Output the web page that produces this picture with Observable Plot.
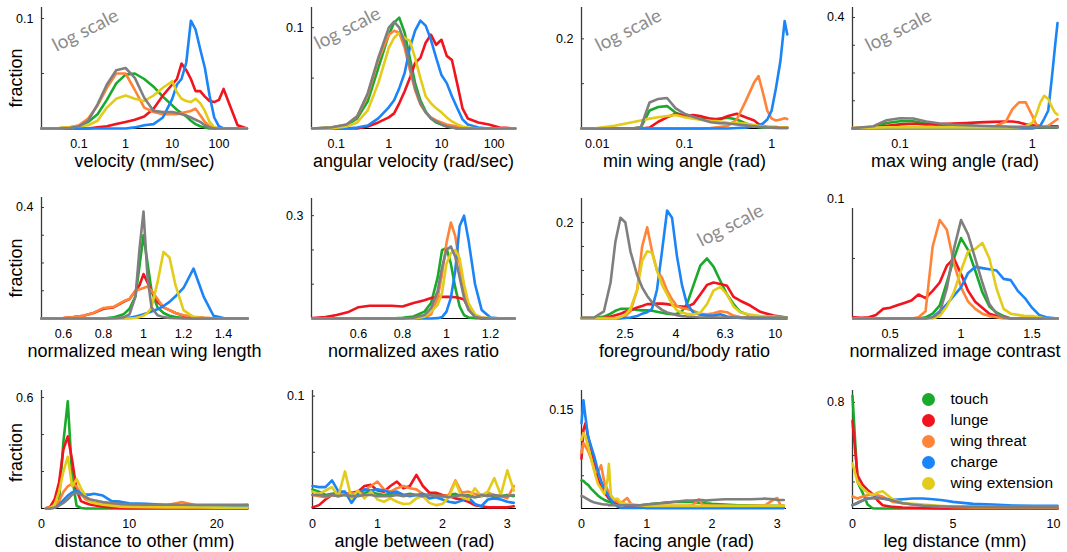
<!DOCTYPE html>
<html><head><meta charset="utf-8">
<script src="https://cdn.jsdelivr.net/npm/d3@7"></script>
<script src="https://cdn.jsdelivr.net/npm/@observablehq/plot@0.6"></script>
<style>
body{margin:0;background:#fff;}
#chart{position:relative;width:1067px;height:552px;overflow:hidden;}
#chart svg{position:absolute;overflow:visible;}
</style></head><body><div id="chart"></div>
<script>
const behaviors = ["touch","lunge","wing threat","charge","wing extension"];
const colors = ["#1aaa2b","#f0141e","#ff8438","#1b84f7","#e3cb1a","#7f7f7f"];
// order of each Y list: touch, lunge, wing threat, charge, wing extension, all (gray)

// 1 velocity (mm/sec)
const velX = [0.0158,0.0316,0.0631,0.1,0.158,0.251,0.398,0.631,1,1.58,2.51,3.98,6.31,10,12.6,15.8,20,25.1,31.6,39.8,50.1,63.1,79.4,100,126,158,251,398];
const velY = [
 [0,0,0.001,0.002,0.006,0.013,0.026,0.041,0.049,0.05,0.045,0.038,0.029,0.021,0.017,0.014,0.011,0.007,0.004,0.002,0.001,0,0,0,0,0,0,0],
 [0,0,0,0,0,0.001,0.002,0.004,0.006,0.008,0.011,0.018,0.03,0.04,0.045,0.059,0.053,0.045,0.034,0.034,0.029,0.025,0.024,0.026,0.036,0.025,0.003,0],
 [0,0,0.001,0.003,0.009,0.021,0.037,0.05,0.05,0.035,0.019,0.015,0.013,0.013,0.013,0.014,0.015,0.016,0.018,0.012,0.006,0.002,0.001,0,0,0,0,0],
 [0,0,0,0,0,0,0,0,0,0.001,0.003,0.004,0.01,0.027,0.04,0.045,0.06,0.098,0.09,0.072,0.055,0.03,0.01,0.002,0,0,0,0],
 [0,0,0.001,0.002,0.003,0.007,0.019,0.027,0.03,0.027,0.025,0.03,0.037,0.043,0.033,0.027,0.025,0.024,0.027,0.023,0.016,0.006,0.001,0,0,0,0,0],
 [0,0,0.0005,0.002,0.007,0.022,0.04,0.053,0.055,0.046,0.028,0.016,0.015,0.015,0.014,0.013,0.012,0.01,0.008,0.006,0.003,0.001,0,0,0,0,0,0]
];
// 2 angular velocity (rad/sec)
const angX = [0.035,0.0794,0.158,0.251,0.398,0.631,1,1.26,1.58,2.0,2.51,3.16,3.98,5.01,6.31,7.94,10,12.6,15.8,20,25.1,31.6,50.1,79.4,126,251];
const angY = [
 [0,0.001,0.003,0.01,0.027,0.06,0.093,0.105,0.11,0.095,0.07,0.045,0.028,0.017,0.01,0.006,0.004,0.002,0.001,0,0,0,0,0,0,0],
 [0,0,0,0,0.002,0.006,0.011,0.015,0.025,0.037,0.05,0.065,0.07,0.085,0.093,0.083,0.088,0.072,0.068,0.044,0.02,0.01,0.006,0.004,0.001,0],
 [0,0.001,0.004,0.012,0.033,0.068,0.093,0.097,0.095,0.08,0.058,0.038,0.024,0.016,0.011,0.008,0.006,0.004,0.003,0.002,0.001,0,0,0,0,0],
 [0,0,0,0.001,0.003,0.01,0.021,0.028,0.04,0.055,0.08,0.097,0.107,0.102,0.088,0.07,0.053,0.045,0.032,0.02,0.009,0.004,0.001,0,0,0],
 [0,0,0.002,0.006,0.018,0.045,0.08,0.09,0.095,0.09,0.087,0.07,0.05,0.032,0.025,0.02,0.016,0.011,0.007,0.004,0.002,0.001,0,0,0,0],
 [0,0.001,0.004,0.012,0.035,0.07,0.1,0.106,0.1,0.085,0.062,0.04,0.025,0.016,0.01,0.007,0.004,0.002,0.001,0,0,0,0,0,0,0]
];
// 3 min wing angle (rad)
const minX = [0.0066,0.01,0.0158,0.0251,0.0316,0.0398,0.0501,0.0631,0.0794,0.1,0.126,0.158,0.2,0.251,0.316,0.398,0.501,0.631,0.708,0.794,0.891,1,1.12,1.26,1.41,1.51];
const minY = [
 [0,0,0,0,0.002,0.04,0.048,0.05,0.035,0.028,0.025,0.021,0.019,0.022,0.024,0.02,0.012,0.005,0.003,0.002,0.002,0.002,0.001,0.001,0.001,0.001],
 [0,0,0,0,0,0.002,0.015,0.025,0.033,0.028,0.03,0.027,0.022,0.02,0.028,0.033,0.025,0.018,0.01,0.006,0.004,0.003,0.003,0.002,0.002,0.002],
 [0,0,0,0,0,0,0,0,0,0,0,0,0.001,0.003,0.006,0.02,0.06,0.103,0.117,0.08,0.04,0.022,0.018,0.02,0.023,0.021],
 [0,0,0,0,0,0,0,0,0,0,0,0,0,0,0,0.001,0.002,0.005,0.007,0.011,0.02,0.04,0.09,0.15,0.24,0.21],
 [0,0.001,0.006,0.014,0.018,0.022,0.025,0.028,0.03,0.025,0.022,0.019,0.017,0.016,0.013,0.012,0.011,0.008,0.006,0.005,0.004,0.003,0.002,0.002,0.002,0.002],
 [0,0,0,0,0.003,0.058,0.066,0.068,0.045,0.033,0.026,0.02,0.014,0.012,0.011,0.009,0.007,0.005,0.004,0.003,0.002,0.002,0.002,0.001,0.001,0.001]
];
// 4 max wing angle (rad)
const maxX = [0.0438,0.0631,0.0794,0.1,0.126,0.158,0.2,0.251,0.316,0.398,0.501,0.631,0.708,0.794,0.891,1,1.07,1.15,1.23,1.32,1.41,1.48,1.55];
const maxY = [
 [0.001,0.005,0.02,0.026,0.026,0.018,0.012,0.01,0.008,0.007,0.006,0.005,0.004,0.004,0.004,0.004,0.004,0.004,0.004,0.004,0.004,0.004,0.004],
 [0,0.004,0.01,0.015,0.017,0.015,0.016,0.018,0.02,0.022,0.024,0.025,0.025,0.022,0.015,0.012,0.01,0.008,0.008,0.008,0.008,0.008,0.008],
 [0.002,0.003,0.003,0.003,0.003,0.003,0.003,0.003,0.003,0.003,0.004,0.025,0.07,0.094,0.094,0.046,0.015,0.008,0.008,0.01,0.02,0.027,0.034],
 [0,0,0,0,0,0,0,0,0,0,0,0,0,0,0,0,0.003,0.01,0.035,0.065,0.19,0.29,0.38],
 [0.002,0.003,0.004,0.004,0.004,0.004,0.004,0.004,0.004,0.004,0.004,0.004,0.004,0.005,0.008,0.02,0.05,0.094,0.118,0.106,0.076,0.058,0.05],
 [0.001,0.008,0.03,0.037,0.036,0.025,0.018,0.014,0.012,0.01,0.008,0.007,0.006,0.006,0.005,0.005,0.005,0.005,0.004,0.004,0.004,0.004,0.004]
];
// 5 normalized mean wing length
const wlenX = [0.49,0.6,0.65,0.7,0.75,0.8,0.85,0.9,0.93,0.96,0.98,1.0,1.02,1.04,1.07,1.1,1.13,1.16,1.2,1.25,1.3,1.35,1.4,1.52];
const wlenY = [
 [0,0,0,0,0,0,0.004,0.015,0.035,0.08,0.19,0.3,0.2,0.1,0.04,0.02,0.01,0.005,0.002,0,0,0,0,0],
 [0,0.002,0.005,0.01,0.02,0.035,0.04,0.06,0.07,0.1,0.12,0.16,0.13,0.1,0.06,0.04,0.03,0.02,0.01,0.005,0.002,0,0,0],
 [0,0.002,0.005,0.01,0.02,0.038,0.042,0.062,0.07,0.1,0.105,0.11,0.115,0.1,0.07,0.04,0.03,0.02,0.012,0.006,0.003,0.001,0,0],
 [0,0,0,0,0,0,0,0.001,0.003,0.007,0.011,0.015,0.02,0.025,0.033,0.045,0.06,0.08,0.11,0.18,0.08,0.01,0.002,0],
 [0,0,0,0,0,0,0,0,0,0.002,0.005,0.01,0.02,0.04,0.13,0.24,0.22,0.12,0.03,0.005,0.001,0,0,0],
 [0,0,0,0,0,0,0.001,0.004,0.015,0.08,0.25,0.385,0.15,0.04,0.012,0.005,0.002,0.001,0,0,0,0,0,0]
];
// 6 normalized axes ratio
const axX = [0.39,0.45,0.5,0.55,0.6,0.65,0.7,0.75,0.8,0.85,0.9,0.93,0.96,0.98,1.0,1.02,1.04,1.06,1.08,1.1,1.13,1.16,1.2,1.25,1.31];
const axY = [
 [0,0,0,0,0,0,0,0,0.002,0.006,0.02,0.045,0.12,0.2,0.205,0.16,0.09,0.035,0.01,0.003,0.001,0,0,0,0],
 [0.001,0.004,0.01,0.018,0.033,0.037,0.037,0.037,0.035,0.045,0.053,0.06,0.063,0.063,0.063,0.063,0.062,0.06,0.055,0.03,0.005,0.001,0,0,0],
 [0,0,0,0,0,0,0,0,0,0,0.003,0.012,0.06,0.13,0.22,0.28,0.24,0.16,0.08,0.03,0.008,0.002,0,0,0],
 [0,0,0,0,0,0,0,0,0,0,0,0,0.001,0.004,0.02,0.06,0.14,0.27,0.3,0.23,0.1,0.025,0.003,0,0],
 [0,0,0,0,0,0,0,0,0,0,0.005,0.02,0.04,0.075,0.16,0.19,0.2,0.175,0.1,0.045,0.012,0.003,0.001,0,0],
 [0,0,0,0,0,0,0,0,0,0.002,0.01,0.03,0.08,0.15,0.2,0.21,0.18,0.12,0.06,0.025,0.005,0.001,0,0,0]
];
// 7 foreground/body ratio
const fgX = [1.68,1.88,2.06,2.19,2.29,2.4,2.51,2.63,2.8,2.93,3.07,3.21,3.36,3.52,3.69,3.86,4.04,4.23,4.43,4.71,5.01,5.33,5.66,6.03,6.41,6.81,7.24,7.94,8.71,9.85,11.1];
const fgY = [
 [0,0.001,0.004,0.01,0.016,0.02,0.02,0.02,0.018,0.017,0.017,0.016,0.014,0.012,0.01,0.009,0.01,0.015,0.03,0.07,0.11,0.125,0.108,0.078,0.05,0.03,0.014,0.006,0.003,0.001,0],
 [0,0,0.001,0.004,0.007,0.01,0.014,0.017,0.023,0.026,0.03,0.03,0.031,0.031,0.03,0.028,0.026,0.025,0.024,0.031,0.05,0.07,0.075,0.072,0.068,0.045,0.037,0.027,0.014,0.006,0.002],
 [0.001,0.001,0.001,0.001,0.001,0.002,0.005,0.015,0.06,0.15,0.19,0.14,0.1,0.085,0.058,0.04,0.026,0.022,0.02,0.016,0.01,0.009,0.011,0.015,0.013,0.006,0.003,0.002,0.001,0.001,0.001],
 [0,0,0,0,0,0,0.001,0.002,0.005,0.01,0.013,0.02,0.06,0.14,0.225,0.21,0.13,0.07,0.03,0.012,0.008,0.006,0.006,0.009,0.004,0.002,0.001,0,0,0,0],
 [0,0,0,0,0,0.003,0.008,0.02,0.06,0.12,0.14,0.137,0.1,0.07,0.05,0.03,0.017,0.012,0.01,0.009,0.012,0.03,0.058,0.066,0.05,0.025,0.013,0.008,0.005,0.004,0.002],
 [0.002,0.002,0.015,0.075,0.16,0.21,0.2,0.14,0.09,0.065,0.047,0.034,0.026,0.018,0.0125,0.01,0.007,0.005,0.004,0.003,0.002,0.002,0.002,0.002,0.002,0.002,0.002,0.002,0.002,0.002,0.002]
];
// 8 normalized image contrast
const conX = [0.24,0.3,0.35,0.4,0.45,0.5,0.55,0.6,0.65,0.7,0.75,0.8,0.85,0.9,0.95,1.0,1.05,1.1,1.15,1.2,1.25,1.3,1.35,1.4,1.45,1.5,1.55,1.6,1.68];
const conY = [
 [0,0,0,0,0,0,0,0,0,0,0.001,0.004,0.011,0.03,0.05,0.067,0.057,0.04,0.022,0.01,0.005,0.002,0,0,0,0,0,0,0],
 [0.001,0.0005,0.001,0.003,0.008,0.009,0.011,0.013,0.015,0.02,0.017,0.023,0.03,0.044,0.05,0.037,0.023,0.014,0.009,0.004,0.002,0.001,0,0,0,0,0,0,0],
 [0,0,0,0,0,0,0,0,0,0.001,0.006,0.06,0.082,0.074,0.046,0.026,0.014,0.008,0.004,0.002,0.001,0,0,0,0,0,0,0,0],
 [0,0,0,0,0,0,0,0,0,0,0,0.001,0.006,0.012,0.019,0.026,0.038,0.043,0.042,0.041,0.04,0.033,0.032,0.023,0.017,0.009,0.003,0.001,0],
 [0,0,0,0,0,0,0,0,0,0,0,0,0.002,0.01,0.022,0.04,0.056,0.058,0.063,0.05,0.025,0.008,0.004,0.003,0.002,0.002,0.001,0,0],
 [0,0,0,0,0,0,0,0,0,0,0,0.001,0.005,0.025,0.058,0.082,0.07,0.05,0.03,0.012,0.004,0.001,0,0,0,0,0,0,0]
];
// 9 distance to other (mm)
const distX = [0.5,1,1.5,2,2.5,3,3.5,4,4.5,5,5.5,6,7,8,9,10,12,14,16,18,20,22,23.5];
const distY = [
 [0,0.002,0.005,0.04,0.36,0.58,0.17,0.015,0.003,0,0,0,0,0,0,0,0,0,0,0,0,0,0],
 [0.002,0.01,0.05,0.14,0.32,0.39,0.26,0.1,0.04,0.03,0.022,0.018,0.01,0.005,0.003,0.002,0.002,0.001,0.001,0.003,0.001,0.001,0.001],
 [0,0.002,0.01,0.04,0.09,0.12,0.135,0.12,0.08,0.05,0.04,0.03,0.025,0.022,0.02,0.02,0.018,0.015,0.035,0.013,0.013,0.014,0.02],
 [0,0.001,0.004,0.02,0.045,0.07,0.087,0.098,0.08,0.075,0.075,0.08,0.07,0.04,0.037,0.028,0.025,0.02,0.017,0.015,0.014,0.014,0.014],
 [0,0.005,0.02,0.09,0.2,0.28,0.12,0.16,0.11,0.07,0.04,0.03,0.02,0.015,0.01,0.008,0.007,0.006,0.006,0.005,0.005,0.004,0.004],
 [0,0.001,0.004,0.015,0.03,0.05,0.075,0.085,0.075,0.063,0.05,0.045,0.035,0.03,0.025,0.023,0.02,0.02,0.02,0.02,0.02,0.02,0.02]
];
// 10 angle between (rad)
const betX = [0,0.1,0.2,0.3,0.4,0.5,0.6,0.7,0.8,0.9,1.0,1.1,1.2,1.3,1.4,1.5,1.6,1.7,1.8,1.9,2.0,2.1,2.2,2.3,2.4,2.5,2.6,2.7,2.8,2.9,3.0,3.1];
const betY = [
 [0.017,0.015,0.012,0.013,0.014,0.012,0.011,0.013,0.014,0.015,0.013,0.012,0.013,0.014,0.012,0.013,0.012,0.011,0.013,0.012,0.011,0.012,0.013,0.011,0.012,0.01,0.011,0.012,0.01,0.011,0.012,0.011],
 [0.001,0.003,0.008,0.012,0.011,0.013,0.014,0.015,0.02,0.021,0.016,0.015,0.02,0.024,0.018,0.02,0.03,0.02,0.014,0.014,0.012,0.011,0.009,0.008,0.006,0.003,0.002,0.001,0.001,0.001,0.001,0.002],
 [0.012,0.011,0.01,0.012,0.012,0.013,0.014,0.013,0.016,0.02,0.024,0.017,0.015,0.018,0.02,0.018,0.017,0.013,0.012,0.011,0.011,0.012,0.025,0.014,0.015,0.013,0.012,0.014,0.012,0.011,0.009,0.02],
 [0.02,0.019,0.019,0.025,0.015,0.015,0.005,0.013,0.017,0.016,0.017,0.016,0.014,0.015,0.012,0.011,0.012,0.013,0.009,0.01,0.008,0.006,0.005,0.007,0.01,0.004,0.002,0.008,0.009,0.008,0.006,0.005],
 [0.015,0.013,0.016,0.019,0.011,0.033,0.009,0.016,0.009,0.015,0.008,0.006,0.009,0.006,0.004,0.0045,0.009,0.011,0.005,0.003,0.004,0.01,0.024,0.01,0.008,0.018,0.011,0.015,0.027,0.012,0.034,0.016],
 [0.012,0.012,0.011,0.012,0.011,0.012,0.011,0.011,0.012,0.012,0.011,0.011,0.011,0.012,0.011,0.012,0.012,0.011,0.012,0.011,0.011,0.01,0.011,0.012,0.011,0.01,0.012,0.011,0.012,0.011,0.011,0.012]
];
// 11 facing angle (rad)
const faceX = [0,0.03,0.06,0.1,0.15,0.2,0.25,0.3,0.35,0.4,0.42,0.45,0.5,0.55,0.6,0.7,0.75,0.8,0.9,1.0,1.1,1.2,1.3,1.4,1.5,1.6,1.7,1.8,1.85,1.9,2.0,2.2,2.4,2.6,2.8,2.95,3.0,3.05,3.1];
const faceY = [
 [0.043,0.042,0.039,0.036,0.03,0.025,0.02,0.016,0.013,0.011,0.01,0.009,0.008,0.007,0.006,0.005,0.005,0.005,0.005,0.006,0.007,0.008,0.009,0.01,0.01,0.01,0.01,0.009,0.009,0.008,0.007,0.006,0.005,0.005,0.004,0.004,0.004,0.004,0.004],
 [0.076,0.12,0.13,0.11,0.09,0.068,0.045,0.032,0.024,0.018,0.015,0.012,0.01,0.008,0.006,0.004,0.005,0.004,0.002,0.001,0.001,0.001,0.001,0.001,0.001,0.001,0.001,0.001,0.001,0.001,0.001,0.001,0.001,0.001,0.001,0.001,0.001,0.001,0.001],
 [0.085,0.1,0.095,0.088,0.075,0.058,0.055,0.066,0.04,0.028,0.024,0.02,0.013,0.01,0.008,0.016,0.008,0.005,0.004,0.004,0.005,0.004,0.004,0.004,0.004,0.004,0.005,0.014,0.006,0.005,0.004,0.004,0.003,0.004,0.004,0.014,0.016,0.005,0.004],
 [0.13,0.165,0.14,0.11,0.094,0.078,0.058,0.042,0.03,0.022,0.018,0.014,0.007,0.003,0.001,0.001,0.001,0.001,0.001,0.001,0.001,0.001,0.001,0.001,0.001,0.001,0.001,0.001,0.001,0.001,0.001,0.001,0.001,0.001,0.001,0.001,0.001,0.001,0.001],
 [0.105,0.115,0.11,0.095,0.075,0.055,0.038,0.03,0.022,0.045,0.068,0.02,0.014,0.015,0.009,0.007,0.006,0.006,0.005,0.004,0.004,0.004,0.004,0.004,0.004,0.004,0.004,0.004,0.004,0.004,0.004,0.004,0.004,0.004,0.004,0.004,0.004,0.004,0.004],
 [0.019,0.018,0.016,0.014,0.011,0.009,0.008,0.007,0.006,0.006,0.005,0.005,0.005,0.005,0.005,0.005,0.005,0.005,0.005,0.006,0.007,0.008,0.009,0.01,0.011,0.012,0.012,0.013,0.013,0.012,0.013,0.014,0.014,0.014,0.015,0.014,0.013,0.013,0.013]
];
// 12 leg distance (mm)
const legX = [0,0.25,0.5,0.75,1,1.25,1.5,2,2.5,3,3.5,4,4.5,5,6,7,8,9,10,10.2];
const legY = [
 [0.85,0.2,0.12,0.03,0.002,0,0,0,0,0,0,0,0,0,0,0,0,0,0,0],
 [0.66,0.25,0.18,0.14,0.11,0.06,0.025,0.012,0.008,0.006,0.004,0.002,0.001,0,0,0,0,0,0,0],
 [0.09,0.075,0.09,0.1,0.11,0.1,0.09,0.05,0.04,0.03,0.025,0.02,0.018,0.015,0.012,0.012,0.012,0.012,0.012,0.012],
 [0.025,0.04,0.06,0.075,0.08,0.08,0.075,0.065,0.07,0.075,0.075,0.07,0.062,0.05,0.035,0.03,0.022,0.02,0.02,0.02],
 [0.34,0.2,0.15,0.12,0.1,0.12,0.13,0.07,0.04,0.035,0.03,0.025,0.015,0.012,0.01,0.01,0.01,0.01,0.01,0.01],
 [0.025,0.045,0.06,0.075,0.078,0.08,0.075,0.06,0.04,0.03,0.022,0.018,0.015,0.013,0.012,0.011,0.01,0.01,0.01,0.01]
];

const panels = [
 {x: velX, ys: velY, title: "velocity (mm/sec)", log: true, xd: [0.0158, 410], left: 41, right: 247, top: 7, base: 128, ymax: 0.11, yt: [0.05, 0.1], yl: 0.1, xt: [0.1, 1, 10, 100], logPos: [44, 23], frac: 10},
 {x: angX, ys: angY, title: "angular velocity (rad/sec)", log: true, xd: [0.034, 255], left: 311, right: 515, top: 7, base: 128, ymax: 0.12, yt: [0.05, 0.1], yl: 0.1, xt: [0.1, 1, 10, 100], logPos: [36, 21]},
 {x: minX, ys: minY, title: "min wing angle (rad)", log: true, xd: [0.0066, 1.52], left: 581, right: 787, top: 7, base: 128, ymax: 0.27, yt: [0.1, 0.2], yl: 0.2, xt: [0.01, 0.1, 1], logPos: [47, 23]},
 {x: maxX, ys: maxY, title: "max wing angle (rad)", log: true, xd: [0.0438, 1.55], left: 852, right: 1057, top: 7, base: 128, ymax: 0.436, yt: [0.1, 0.2, 0.3, 0.4], yl: 0.4, xt: [0.1, 1], logPos: [46, 23]},
 {x: wlenX, ys: wlenY, title: "normalized mean wing length", xd: [0.49, 1.52], left: 41, right: 247, top: 197, base: 318, ymax: 0.436, yt: [0.1, 0.2, 0.3, 0.4], yl: 0.4, xt: [0.6, 0.8, 1, 1.2, 1.4], frac: 10},
 {x: axX, ys: axY, title: "normalized axes ratio", xd: [0.386, 1.314], left: 311, right: 515, top: 198, base: 318, ymax: 0.35, yt: [0.1, 0.2, 0.3], yl: 0.3, xt: [0.6, 0.8, 1, 1.2]},
 {x: fgX, ys: fgY, title: "foreground/body ratio", log: true, xd: [1.675, 11.2], left: 581, right: 787, top: 198, base: 318, ymax: 0.25, yt: [0.05, 0.1, 0.15, 0.2], yl: 0.2, xt: [2.5, 4, 6.3, 10], logPos: [149, 27]},
 {x: conX, ys: conY, title: "normalized image contrast", xd: [0.235, 1.68], left: 852, right: 1057, top: 198, base: 318, ymax: 0.1, axisTop: 0.0917, yt: [0.05], yl: 0.1, xt: [0.5, 1, 1.5]},
 {x: distX, ys: distY, title: "distance to other (mm)", xd: [0, 23.5], left: 41, right: 247, top: 390, base: 508, ymax: 0.638, yt: [0.2, 0.4, 0.6], yl: 0.6, xt: [0, 10, 20], frac: 3},
 {x: betX, ys: betY, title: "angle between (rad)", xd: [0, Math.PI], left: 312, right: 516, top: 390, base: 508, ymax: 0.105, yt: [0.05, 0.1], yl: 0.1, xt: [0, 1, 2, 3]},
 {x: faceX, ys: faceY, title: "facing angle (rad)", xd: [0, Math.PI], left: 581, right: 786, top: 390, base: 508, ymax: 0.18, yt: [0.05, 0.1, 0.15], yl: 0.15, xt: [0, 1, 2, 3]},
 {x: legX, ys: legY, title: "leg distance (mm)", xd: [0, 10.2], left: 852, right: 1057, top: 390, base: 508, ymax: 0.89, yt: [0.2, 0.4, 0.6, 0.8], yl: 0.8, xt: [0, 5, 10], legend: true}
];

const ML = 40, MR = 10, MT = 10, MB = 45;
const chart = document.getElementById("chart");
const axisColor = "#3a3a3a";
for (const p of panels) {
  const fw = p.right - p.left, fh = p.base - p.top;
  const marks = [
    Plot.ruleY([0], {stroke: "#000", strokeWidth: 1}),
    Plot.ruleX([p.xd[0]], {y1: 0, y2: p.axisTop ?? p.ymax, stroke: axisColor, strokeWidth: 1.3}),
    Plot.tickY(p.yt, {y: d => d, insetRight: fw - 3, stroke: axisColor, strokeWidth: 1}),
    ...p.ys.map((ys, s) => Plot.line(p.x.map((x, i) => ({x, y: ys[i]})), {x: "x", y: "y", stroke: colors[s], strokeWidth: 2.6, strokeLinejoin: "round", strokeLinecap: "round"})),
    Plot.axisY([p.yl], {tickSize: 0, tickPadding: 8, fontSize: 12.5, label: null, tickFormat: d => String(d)}),
    Plot.text(p.xt, {x: d => d, frameAnchor: "bottom", dy: 15, text: d => String(d), fontSize: 12.5, lineAnchor: "middle"}),
    Plot.text([p.title], {frameAnchor: "bottom", dy: 33, fontSize: 18, lineAnchor: "middle"})
  ];
  if (p.logPos) {
    marks.push(Plot.text(["log scale"], {frameAnchor: "top-left", dx: p.logPos[0], dy: p.logPos[1], rotate: -27, fontSize: 19, fill: "#8c8c8c", fontFamily: "Lato, 'Open Sans', sans-serif", textAnchor: "middle", lineAnchor: "middle"}));
  }
  if (p.frac !== undefined) {
    marks.push(Plot.text(["fraction"], {frameAnchor: "left", dx: -25, dy: p.frac, rotate: -90, fontSize: 18, textAnchor: "middle", lineAnchor: "middle"}));
  }
  if (p.legend) {
    behaviors.forEach((b, i) => {
      marks.push(Plot.dot([b], {frameAnchor: "top-left", dx: 76, dy: 9 + 21 * i, r: 6.5, fill: colors[i], stroke: "none"}));
      marks.push(Plot.text([b], {frameAnchor: "top-left", dx: 98, dy: 9 + 21 * i, textAnchor: "start", lineAnchor: "middle", fontSize: 15.5}));
    });
  }
  const svg = Plot.plot({
    width: ML + fw + MR, height: MT + fh + MB,
    marginLeft: ML, marginRight: MR, marginTop: MT, marginBottom: MB,
    x: {type: p.log ? "log" : "linear", domain: p.xd, axis: null},
    y: {domain: [0, p.ymax]},
    style: {fontFamily: "'Liberation Sans', Arial, sans-serif", background: "transparent", overflow: "visible", color: "#000"},
    marks
  });
  svg.style.left = (p.left - ML) + "px";
  svg.style.top = (p.top - MT) + "px";
  chart.appendChild(svg);
}
</script></body></html>
